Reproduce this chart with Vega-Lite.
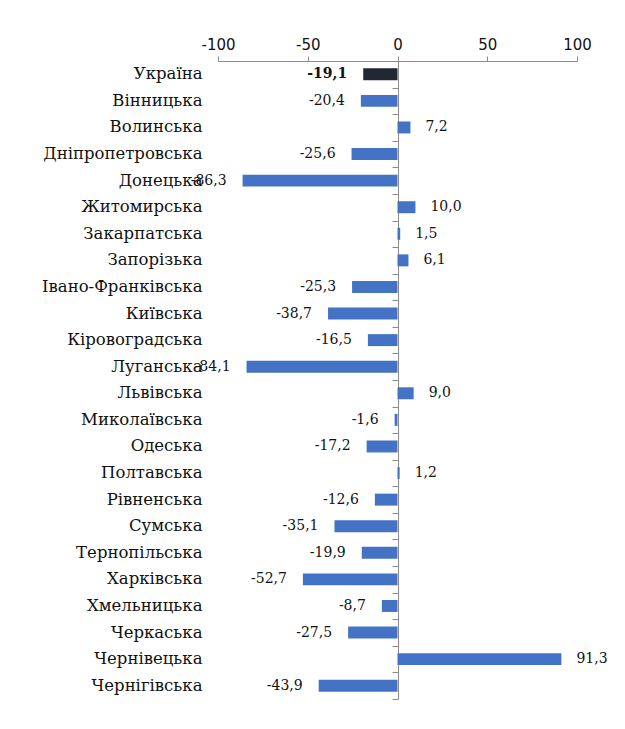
{
  "$schema": "https://vega.github.io/schema/vega-lite/v6.json",
  "autosize": "none",
  "width": 359,
  "height": 638,
  "padding": {"left": 218, "top": 61, "right": 48, "bottom": 30},
  "background": "white",
  "config": {
    "view": {"stroke": null},
    "locale": {"number": {"decimal": ",", "thousands": " ", "grouping": [3], "currency": ["", ""], "minus": "-"}}
  },
  "data": {
    "values": [
      {"region": "Україна", "value": -19.1},
      {"region": "Вінницька", "value": -20.4},
      {"region": "Волинська", "value": 7.2},
      {"region": "Дніпропетровська", "value": -25.6},
      {"region": "Донецька", "value": -86.3},
      {"region": "Житомирська", "value": 10.0},
      {"region": "Закарпатська", "value": 1.5},
      {"region": "Запорізька", "value": 6.1},
      {"region": "Івано-Франківська", "value": -25.3},
      {"region": "Київська", "value": -38.7},
      {"region": "Кіровоградська", "value": -16.5},
      {"region": "Луганська", "value": -84.1},
      {"region": "Львівська", "value": 9.0},
      {"region": "Миколаївська", "value": -1.6},
      {"region": "Одеська", "value": -17.2},
      {"region": "Полтавська", "value": 1.2},
      {"region": "Рівненська", "value": -12.6},
      {"region": "Сумська", "value": -35.1},
      {"region": "Тернопільська", "value": -19.9},
      {"region": "Харківська", "value": -52.7},
      {"region": "Хмельницька", "value": -8.7},
      {"region": "Черкаська", "value": -27.5},
      {"region": "Чернівецька", "value": 91.3},
      {"region": "Чернігівська", "value": -43.9}
    ]
  },
  "resolve": {"axis": {"y": "independent"}},
  "layer": [
    {
      "mark": {"type": "bar", "height": {"band": 0.45}},
      "encoding": {
        "y": {
          "field": "region", "type": "nominal", "sort": null,
          "scale": {"paddingInner": 0, "paddingOuter": 0},
          "axis": {
            "title": null, "orient": "left", "domain": false, "ticks": false,
            "labelFont": "DejaVu Serif", "labelFontSize": 16.5, "labelColor": "#111",
            "labelPadding": 16, "labelLimit": 300
          }
        },
        "x": {
          "field": "value", "type": "quantitative",
          "scale": {"domain": [-100, 100], "nice": false, "zero": true},
          "axis": {
            "title": null, "orient": "top", "values": [-100, -50, 0, 50, 100],
            "grid": false, "domainColor": "#8c8c8c", "tickColor": "#8c8c8c", "tickSize": 5,
            "labelFont": "DejaVu Sans", "labelFontSize": 15, "labelColor": "#111",
            "labelPadding": 4, "labelFlush": false, "format": "d"
          }
        },
        "color": {
          "condition": {"test": "datum.region === 'Україна'", "value": "#212833"},
          "value": "#4472C4"
        }
      }
    },
    {
      "transform": [{"filter": "datum.value < 0 && datum.region !== 'Україна'"}],
      "mark": {"type": "text", "align": "right", "baseline": "middle", "dx": -16, "font": "DejaVu Serif", "fontSize": 14, "color": "#111"},
      "encoding": {
        "y": {
          "field": "region", "type": "nominal", "sort": null,
          "axis": {
            "title": null, "orient": "left", "offset": -180, "labels": false,
            "domain": true, "domainColor": "#8c8c8c", "ticks": true, "tickColor": "#8c8c8c",
            "tickSize": 6, "tickBand": "extent"
          }
        },
        "x": {"field": "value", "type": "quantitative"},
        "text": {"field": "value", "type": "quantitative", "format": ".1f"}
      }
    },
    {
      "transform": [{"filter": "datum.value >= 0"}],
      "mark": {"type": "text", "align": "left", "baseline": "middle", "dx": 15, "font": "DejaVu Serif", "fontSize": 14, "color": "#111"},
      "encoding": {
        "y": {"field": "region", "type": "nominal", "sort": null, "axis": null},
        "x": {"field": "value", "type": "quantitative"},
        "text": {"field": "value", "type": "quantitative", "format": ".1f"}
      }
    },
    {
      "transform": [{"filter": "datum.region === 'Україна'"}],
      "mark": {"type": "text", "align": "right", "baseline": "middle", "dx": -16, "font": "DejaVu Serif", "fontSize": 14, "fontWeight": "bold", "color": "#111"},
      "encoding": {
        "y": {"field": "region", "type": "nominal", "sort": null, "axis": null},
        "x": {"field": "value", "type": "quantitative"},
        "text": {"field": "value", "type": "quantitative", "format": ".1f"}
      }
    }
  ]
}
